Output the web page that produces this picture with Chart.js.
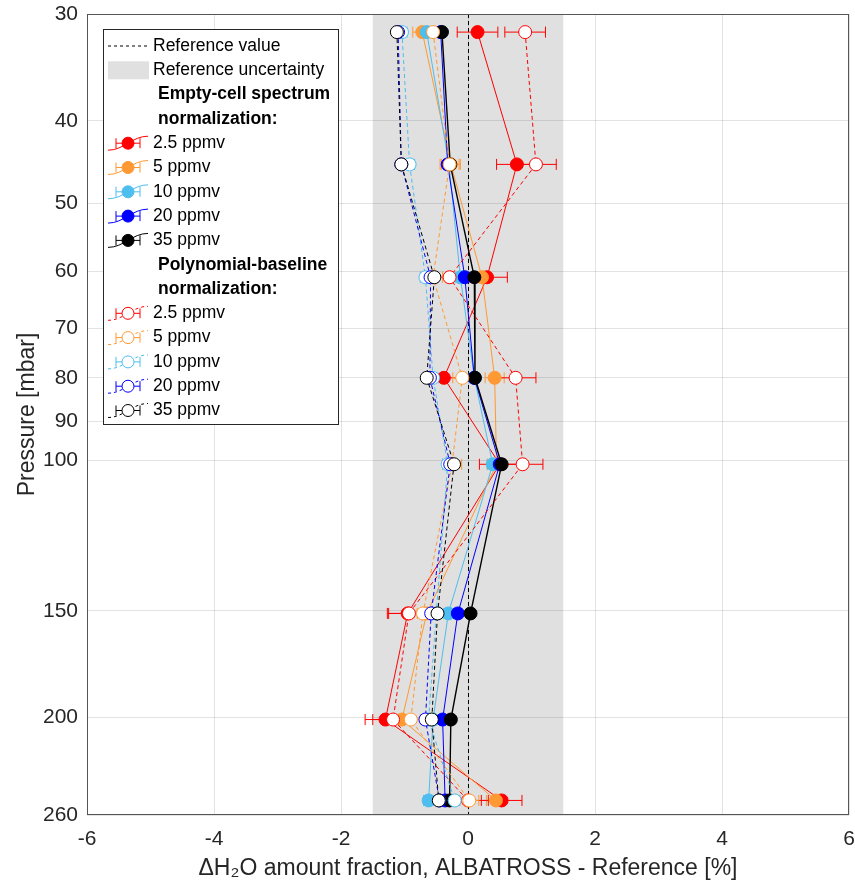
<!DOCTYPE html>
<html>
<head>
<meta charset="utf-8">
<script src="https://cdn.jsdelivr.net/npm/chart.js@4.4.1/dist/chart.umd.min.js"></script>
<style>
  body { margin: 0; background: #fff; }
  canvas { display: block; }
</style>
</head>
<body>
<canvas id="chart" width="855" height="894"></canvas>
<script>
// pressure levels [mbar]
const pressure = [31.5, 45, 61, 80, 101, 151, 201, 250];
const yTicks = [30, 40, 50, 60, 70, 80, 90, 100, 150, 200, 260];

const concLabels = ['2.5 ppmv', '5 ppmv', '10 ppmv', '20 ppmv', '35 ppmv'];
const seriesColors = ['#ff0000', '#ff9933', '#4dbeee', '#0000ff', '#000000'];

// empty-cell spectrum normalization (filled markers)
const empty25 = [0.15, 0.77, 0.30, -0.38, 0.50, -0.95, -1.30, 0.53];
const empty5  = [-0.72, -0.27, 0.22, 0.42, 0.45, -0.65, -1.04, 0.44];
const empty10 = [-0.65, -0.30, -0.12, 0.10, 0.39, -0.31, -0.55, -0.62];
const empty20 = [-0.43, -0.32, -0.05, 0.10, 0.50, -0.16, -0.40, -0.36];
const empty35 = [-0.41, -0.28, 0.10, 0.11, 0.53, 0.04, -0.27, -0.29];
const emptyErr = [0.32, 0.15, 0.08, 0.06, 0.05];

// polynomial-baseline normalization (open markers)
const poly25 = [0.90, 1.07, -0.29, 0.75, 0.86, -0.93, -1.18, 0.00];
const poly5  = [-0.55, -0.29, -0.55, -0.09, -0.25, -0.71, -0.90, 0.02];
const poly10 = [-1.04, -0.92, -0.67, -0.55, -0.32, -0.50, -0.62, -0.21];
const poly20 = [-1.10, -1.05, -0.59, -0.60, -0.28, -0.58, -0.67, -0.45];
const poly35 = [-1.12, -1.05, -0.53, -0.65, -0.22, -0.48, -0.57, -0.46];
const polyErr = [0.32, 0.15, 0.08, 0.06, 0.05];

const refValue = 0;
const refUncertainty = 1.5;

const emptySeries = [empty25, empty5, empty10, empty20, empty35];
const polySeries = [poly25, poly5, poly10, poly20, poly35];

const FONT = '"Liberation Sans", Arial, Helvetica, sans-serif';
const AXIS_COLOR = '#262626';

function makeSet(vals, i, open, err, order) {
  return {
    label: (open ? 'poly ' : 'empty ') + concLabels[i],
    data: vals.map((v, k) => ({ x: v, y: pressure[k] })),
    errX: err,
    showLine: true,
    borderColor: seriesColors[i],
    borderWidth: i === 4 && !open ? 1.4 : 1,
    borderDash: open ? [4, 3] : [],
    pointRadius: 6.5,
    pointHoverRadius: 6.5,
    pointBorderWidth: 1,
    pointBorderColor: seriesColors[i],
    pointBackgroundColor: open ? '#ffffff' : seriesColors[i],
    order: order
  };
}

const datasets = [];
emptySeries.forEach((s, i) => datasets.push(makeSet(s, i, false, emptyErr[i], 100 - i)));
polySeries.forEach((s, i) => datasets.push(makeSet(s, i, true, polyErr[i], 90 - i)));

// gray band, reference line, error bars
const backdrop = {
  id: 'backdrop',
  beforeDraw(chart) {
    const { ctx, chartArea: a, scales: { x } } = chart;
    ctx.save();
    ctx.fillStyle = '#e0e0e0';
    const l = x.getPixelForValue(refValue - refUncertainty);
    const r = x.getPixelForValue(refValue + refUncertainty);
    ctx.fillRect(l, a.top, r - l, a.bottom - a.top);
    ctx.restore();
  },
  beforeDatasetsDraw(chart) {
    const { ctx, chartArea: a, scales: { x } } = chart;
    ctx.save();
    // reference value
    ctx.strokeStyle = '#000';
    ctx.lineWidth = 1;
    ctx.setLineDash([4, 3]);
    const x0 = Math.round(x.getPixelForValue(refValue)) + 0.5;
    ctx.beginPath();
    ctx.moveTo(x0, a.top);
    ctx.lineTo(x0, a.bottom);
    ctx.stroke();
    ctx.setLineDash([]);
    // error bars
    chart.data.datasets.forEach((ds, di) => {
      const meta = chart.getDatasetMeta(di);
      ctx.strokeStyle = ds.borderColor;
      ctx.lineWidth = 1;
      meta.data.forEach((pt, k) => {
        const v = ds.data[k].x;
        const xl = x.getPixelForValue(v - ds.errX);
        const xr = x.getPixelForValue(v + ds.errX);
        const y = pt.y;
        ctx.beginPath();
        ctx.moveTo(xl, y); ctx.lineTo(xr, y);
        ctx.moveTo(xl, y - 5.5); ctx.lineTo(xl, y + 5.5);
        ctx.moveTo(xr, y - 5.5); ctx.lineTo(xr, y + 5.5);
        ctx.stroke();
      });
    });
    ctx.restore();
  },
  afterDraw(chart) {
    const { ctx, chartArea: a } = chart;
    ctx.save();
    ctx.strokeStyle = '#555';
    ctx.lineWidth = 1;
    ctx.strokeRect(Math.round(a.left) + 0.5, Math.round(a.top) + 0.5,
      Math.round(a.right - a.left) - 1, Math.round(a.bottom - a.top) - 1);
    ctx.restore();
  }
};

// legend box inside the axes
const legendBox = {
  id: 'legendBox',
  afterDraw(chart) {
    const ctx = chart.ctx;
    const bx = 103, by = 29, bw = 235, bh = 395;
    const rowH = 24.3;
    const x0 = 108, x1 = 148, tx = 153;
    ctx.save();
    ctx.fillStyle = '#fff';
    ctx.fillRect(bx, by, bw, bh);
    ctx.strokeStyle = AXIS_COLOR;
    ctx.lineWidth = 1;
    ctx.strokeRect(bx + 0.5, by + 0.5, bw, bh);
    ctx.textBaseline = 'middle';
    ctx.fillStyle = '#000';
    ctx.font = '17.5px ' + FONT;
    let y = 46;
    // reference value
    ctx.strokeStyle = '#000';
    ctx.setLineDash([3, 3]);
    ctx.beginPath(); ctx.moveTo(x0, y); ctx.lineTo(x1, y); ctx.stroke();
    ctx.setLineDash([]);
    ctx.fillText('Reference value', tx, y);
    y += rowH;
    ctx.fillStyle = '#e0e0e0';
    ctx.fillRect(x0, y - 9, x1 - x0 + 1, 18);
    ctx.fillStyle = '#000';
    ctx.fillText('Reference uncertainty', tx, y);

    function heading(l1, l2) {
      ctx.font = 'bold 17.5px ' + FONT;
      y += rowH; ctx.fillText(l1, 158, y);
      y += rowH; ctx.fillText(l2, 158, y);
      ctx.font = '17.5px ' + FONT;
    }
    function item(i, open) {
      y += rowH;
      const c = seriesColors[i];
      ctx.strokeStyle = c;
      ctx.lineWidth = 1;
      ctx.setLineDash(open ? [3, 3] : []);
      ctx.beginPath();
      ctx.moveTo(x0, y + 7);
      ctx.bezierCurveTo(124, y + 7, 132, y - 7, x1, y - 7);
      ctx.stroke();
      ctx.setLineDash([]);
      ctx.beginPath();
      ctx.moveTo(116, y); ctx.lineTo(140, y);
      ctx.moveTo(116, y - 5); ctx.lineTo(116, y + 5);
      ctx.moveTo(140, y - 5); ctx.lineTo(140, y + 5);
      ctx.stroke();
      ctx.beginPath();
      ctx.arc(128, y, 6, 0, Math.PI * 2);
      ctx.fillStyle = open ? '#fff' : c;
      ctx.fill();
      ctx.stroke();
      ctx.fillStyle = '#000';
      ctx.fillText(concLabels[i], tx, y);
    }
    heading('Empty-cell spectrum', 'normalization:');
    concLabels.forEach((_, i) => item(i, false));
    heading('Polynomial-baseline', 'normalization:');
    concLabels.forEach((_, i) => item(i, true));
    ctx.restore();
  }
};

new Chart(document.getElementById('chart'), {
  type: 'scatter',
  data: { datasets: datasets },
  options: {
    responsive: false,
    animation: false,
    layout: { autoPadding: false, padding: { top: 14, right: 6, left: 0, bottom: 0 } },
    plugins: { legend: { display: false }, tooltip: { enabled: false } },
    scales: {
      x: {
        type: 'linear',
        min: -6, max: 6,
        ticks: { stepSize: 2, color: AXIS_COLOR, padding: 12, font: { family: FONT, size: 21 } },
        grid: { color: 'rgba(38,38,38,0.13)', drawTicks: false },
        border: { display: false },
        title: {
          display: true,
          text: '\u0394H\u2082O amount fraction, ALBATROSS - Reference [%]',
          color: AXIS_COLOR,
          font: { family: FONT, size: 23 },
          padding: { top: 0, bottom: 12 }
        },
        afterFit(s) { s.height = 79; s.paddingLeft = 0; s.paddingRight = 0; }
      },
      y: {
        type: 'logarithmic',
        reverse: true,
        min: 30, max: 260,
        afterBuildTicks(s) { s.ticks = yTicks.map(v => ({ value: v })); },
        ticks: {
          color: AXIS_COLOR, padding: 9, font: { family: FONT, size: 21 },
          callback: v => String(v)
        },
        grid: { color: 'rgba(38,38,38,0.13)', drawTicks: false },
        border: { display: false },
        title: {
          display: true,
          text: 'Pressure [mbar]',
          color: AXIS_COLOR,
          font: { family: FONT, size: 23 },
          padding: { top: 14, bottom: 0 }
        },
        afterFit(s) { s.width = 87; s.paddingTop = 0; s.paddingBottom = 0; }
      }
    }
  },
  plugins: [backdrop, legendBox]
});
</script>
</body>
</html>
